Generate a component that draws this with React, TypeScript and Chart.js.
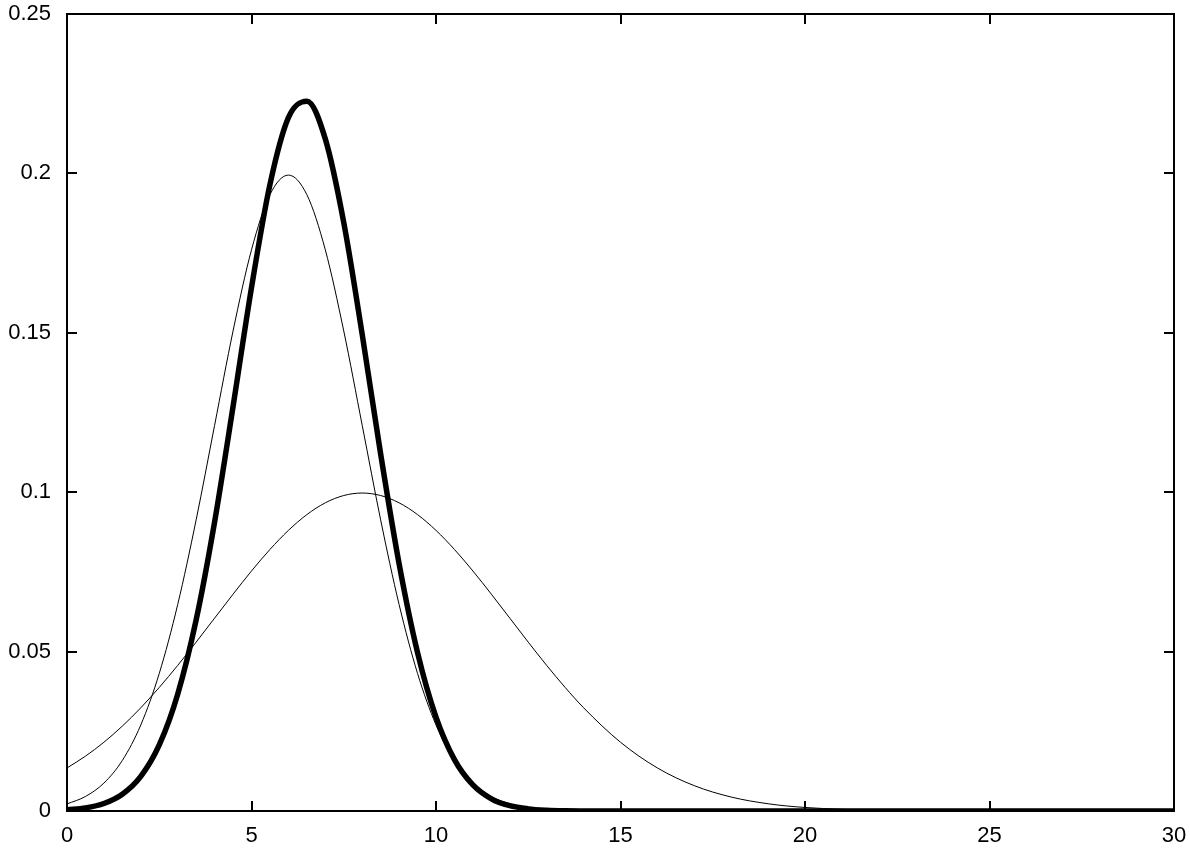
import React, { useEffect, useRef } from "react";
import { Chart, registerables } from "chart.js";

Chart.register(...registerables);

const xValues = [
  0, 0.5, 1, 1.5, 2, 2.5, 3, 3.5, 4, 4.5, 5, 5.5, 6, 6.5, 7, 7.5, 8, 8.5, 9, 9.5,
  10, 10.5, 11, 11.5, 12, 12.5, 13, 13.5, 14, 15, 16, 17, 18, 19, 20, 22, 24, 26, 28, 30,
];

// wide prior (peak ~0.1 near x=8)
const wideCurve = [
  0.0135, 0.0172, 0.02157, 0.02664, 0.03238, 0.03876, 0.04566, 0.05297, 0.0605, 0.06801,
  0.07529, 0.08204, 0.08802, 0.09297, 0.09667, 0.09896, 0.09974, 0.09896, 0.09667, 0.09297,
  0.08802, 0.08204, 0.07529, 0.06801, 0.0605, 0.05297, 0.04566, 0.03876, 0.03238, 0.02157,
  0.0135, 0.00794, 0.00438, 0.00227, 0.00111, 0.00022, 0.00003, 0.0, 0.0, 0.0,
];

// narrow curve (peak ~0.2 near x=6)
const narrowCurve = [
  0.00222, 0.00455, 0.00876, 0.01587, 0.027, 0.04314, 0.06476, 0.09132, 0.12099, 0.15057,
  0.17603, 0.19333, 0.19947, 0.19333, 0.17603, 0.15057, 0.12099, 0.09132, 0.06476, 0.04314,
  0.027, 0.01587, 0.00876, 0.00455, 0.00222, 0.00101, 0.00044, 0.00018, 0.00007, 0.00001,
  0.0, 0.0, 0.0, 0.0, 0.0, 0.0, 0.0, 0.0, 0.0, 0.0,
];

// product curve (thick, peak ~0.223 near x=6.4)
const productCurve = [
  0.00037, 0.00097, 0.00234, 0.00524, 0.01083, 0.02071, 0.03664, 0.05993, 0.09067, 0.12687,
  0.16418, 0.19651, 0.21751, 0.22267, 0.21082, 0.1846, 0.1495, 0.11197, 0.07756, 0.04968,
  0.02944, 0.01613, 0.00818, 0.00383, 0.00166, 0.00067, 0.00025, 0.00008, 0.00003, 0.0,
  0.0, 0.0, 0.0, 0.0, 0.0, 0.0, 0.0, 0.0, 0.0, 0.0,
];

const xTicks = [0, 5, 10, 15, 20, 25, 30];
const yTicks = [0, 0.05, 0.1, 0.15, 0.2, 0.25];

const toPoints = (ys: number[]) => xValues.map((x, i) => ({ x, y: ys[i] }));

const frameAndTicks = {
  id: "frameAndTicks",
  afterDraw(chart: any) {
    const { ctx, chartArea } = chart;
    const { left, right, top, bottom } = chartArea;
    const xs = chart.scales.x;
    const ys = chart.scales.y;
    const tl = 10;
    ctx.save();
    ctx.strokeStyle = "#000";
    ctx.lineWidth = 2;
    ctx.beginPath();
    for (const v of xTicks) {
      const px = Math.round(xs.getPixelForValue(v));
      ctx.moveTo(px, bottom);
      ctx.lineTo(px, bottom - tl);
      ctx.moveTo(px, top);
      ctx.lineTo(px, top + tl);
    }
    for (const v of yTicks) {
      const py = Math.round(ys.getPixelForValue(v));
      ctx.moveTo(left, py);
      ctx.lineTo(left + tl, py);
      ctx.moveTo(right, py);
      ctx.lineTo(right - tl, py);
    }
    ctx.stroke();
    ctx.strokeRect(left, top, right - left, bottom - top);
    ctx.restore();
  },
};

const labelFont = { family: "'Liberation Sans', Arial, sans-serif", size: 22 };

const lineStyle = {
  borderColor: "#000",
  pointRadius: 0,
  fill: false,
  cubicInterpolationMode: "monotone" as const,
};

export default function App() {
  const ref = useRef<HTMLCanvasElement | null>(null);

  useEffect(() => {
    if (!ref.current) return;
    const chart = new Chart(ref.current, {
      type: "line",
      data: {
        datasets: [
          { label: "wide", data: toPoints(wideCurve), borderWidth: 1, ...lineStyle },
          { label: "narrow", data: toPoints(narrowCurve), borderWidth: 1, ...lineStyle },
          { label: "product", data: toPoints(productCurve), borderWidth: 5.5, ...lineStyle },
        ],
      },
      options: {
        animation: false,
        responsive: false,
        maintainAspectRatio: false,
        layout: { padding: { left: 0, top: 14, right: 16, bottom: 0 } },
        plugins: {
          legend: { display: false },
          tooltip: { enabled: false },
        },
        scales: {
          x: {
            type: "linear",
            min: 0,
            max: 30,
            afterFit: (s: any) => {
              s.height = 38;
              s.paddingLeft = 0;
              s.paddingRight = 0;
            },
            afterBuildTicks: (s: any) => {
              s.ticks = xTicks.map((v) => ({ value: v }));
            },
            grid: { display: false, drawTicks: false },
            border: { display: false },
            ticks: {
              color: "#000",
              padding: 12,
              font: labelFont,
              maxRotation: 0,
              callback: (v: any) => String(v),
            },
          },
          y: {
            type: "linear",
            min: 0,
            max: 0.25,
            afterFit: (s: any) => {
              s.width = 67;
              s.paddingTop = 0;
              s.paddingBottom = 0;
            },
            afterBuildTicks: (s: any) => {
              s.ticks = yTicks.map((v) => ({ value: v }));
            },
            grid: { display: false, drawTicks: false },
            border: { display: false },
            ticks: {
              color: "#000",
              padding: 16,
              font: labelFont,
              callback: (v: any) => String(Math.round(v * 100) / 100),
            },
          },
        },
      },
      plugins: [frameAndTicks],
    });
    return () => chart.destroy();
  }, []);

  return (
    <div style={{ position: "fixed", left: 0, top: 0, width: 1190, height: 849, background: "#fff" }}>
      <canvas ref={ref} width={1190} height={849} style={{ display: "block" }} />
    </div>
  );
}
